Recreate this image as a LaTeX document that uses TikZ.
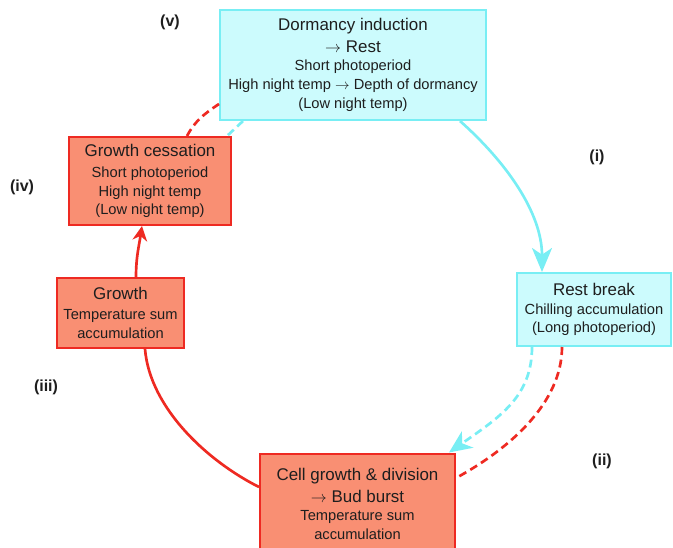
\documentclass[tikz,border=0pt]{standalone}
\usepackage{fontspec}
\setmainfont{Liberation Sans}
\usetikzlibrary{arrows.meta}
\usetikzlibrary{calc}

\definecolor{coldfill}{HTML}{CCFBFD}
\definecolor{coldline}{HTML}{78EEF4}
\definecolor{warmfill}{HTML}{F98F73}
\definecolor{warmline}{HTML}{EE2A22}
\definecolor{inktext}{HTML}{1E1E1E}

\newcommand{\stagehead}[1]{{\fontsize{12.7}{15}\selectfont #1}}

\begin{document}
\begin{tikzpicture}[x=0.75pt,y=0.75pt,yscale=-1,xscale=1,
  coldbox/.style={draw=coldline,fill=coldfill,line width=1.5pt,align=center,inner sep=0pt,text=inktext,font=\fontsize{11}{14}\selectfont},
  warmbox/.style={draw=warmline,fill=warmfill,line width=1.5pt,align=center,inner sep=0pt,text=inktext,font=\fontsize{11}{14}\selectfont},
  phase/.style={font=\bfseries\fontsize{12}{14}\selectfont,text=inktext},
  coldflow/.style={draw=coldline,line width=2pt},
  warmflow/.style={draw=warmline,line width=2pt},
  broken/.style={dash pattern=on 6pt off 3.5pt}]
\useasboundingbox (0,0) rectangle (673,548);
\clip (0,0) rectangle (673,548);

%Shape: Rectangle [dormancy induction]
\node [coldbox,minimum width=199.5pt,minimum height=82.5pt] (dorm) at (353,65) {\stagehead{Dormancy induction}\\[2pt] \stagehead{$\rightarrow$ Rest}\\ Short photoperiod\\ High night temp $\rightarrow$ Depth of dormancy\\ (Low night temp)};
%Shape: Rectangle [rest break]
\node [coldbox,minimum width=115.5pt,minimum height=54.75pt] (rest) at (594,309.5) {\stagehead{Rest break}\\ Chilling accumulation\\ (Long photoperiod)};
%Shape: Rectangle [cell growth]
\node [warmbox,minimum width=146.25pt,minimum height=75.75pt] (cell) at (357.5,504) {\stagehead{Cell growth \& division}\\[2pt] \stagehead{$\rightarrow$ Bud burst}\\ Temperature sum\\ accumulation};
%Shape: Rectangle [growth]
\node [warmbox,minimum width=95.25pt,minimum height=52.5pt] (grow) at (120.5,313) {\stagehead{Growth}\\[1pt] Temperature sum\\ accumulation};
%Shape: Rectangle [growth cessation]
\node [warmbox,minimum width=121.5pt,minimum height=66pt] (cess) at (150,181) {\stagehead{Growth cessation}\\[2pt] Short photoperiod\\ High night temp\\ (Low night temp)};

% Text Node
\node [phase] (labi) at (597,157) {(i)};
% Text Node
\node [phase] (labii) at (602,461) {(ii)};
% Text Node
\node [phase] (labiii) at (46,387) {(iii)};
% Text Node
\node [phase] (labiv) at (22,187) {(iv)};
% Text Node
\node [phase] (labv) at (170,22) {(v)};

%Curve Lines [(i)]
\draw [coldflow,-{Stealth[length=18pt,width=15pt,inset=5pt]}] ($(dorm.south)+(107,0)$) .. controls +(45,40) and +(0,-60) .. ($(rest.north)+(-52,0)$);
%Curve Lines [(ii)]
\draw [coldflow,broken,-{Stealth[length=17pt,width=15pt,inset=5pt]}] ($(rest.south)+(-62,0)$) .. controls +(0,50) and +(50,-35) .. ($(cell.north east)+(-7,0)$);
\draw [warmflow,broken] ($(rest.south)+(-32,0)$) .. controls +(0,55) and +(55,-30) .. ($(cell.east)+(0,-26)$);
%Curve Lines [(iii)]
\draw [warmflow] ($(grow.south)+(24.5,0)$) .. controls +(5,60) and +(-50,-25) .. ($(cell.west)+(0,-17)$);
%Curve Lines [(iv)]
\draw [warmflow,-{Stealth[length=11pt,width=11pt,inset=3.5pt]}] ($(grow.north)+(15.5,0)$) .. controls +(0,-20) and +(-3,20) .. ($(cess.south)+(-8,0)$);
%Curve Lines [(v)]
\draw [warmflow,broken] ($(cess.north)+(37,0)$) .. controls +(8,-15) and +(-15,10) .. ($(dorm.west)+(0,39)$);
\draw [coldflow,broken] ($(dorm.south)+(-110,0)$) -- ($(cess.north east)+(-5,0)$);

\end{tikzpicture}
\end{document}
